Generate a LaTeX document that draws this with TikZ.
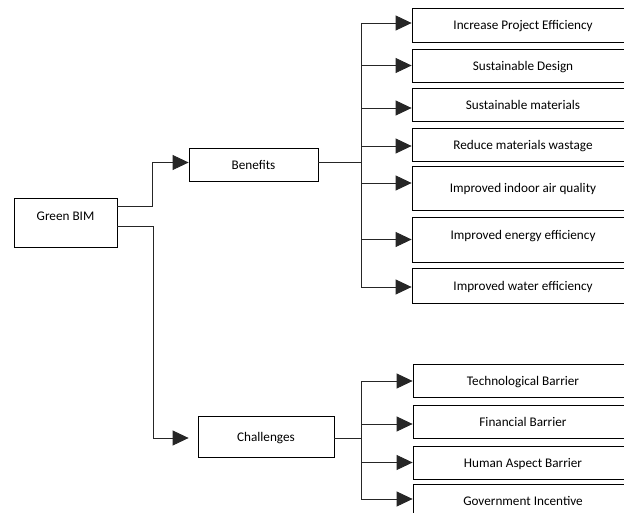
\documentclass[tikz,border=0pt]{standalone}
\usepackage{fontspec}
\setmainfont{Carlito}
\usetikzlibrary{arrows.meta,calc}
\tikzset{
  txt/.style={font=\fontsize{13.2}{15}\selectfont},
  box/.style={draw=black, line width=0.8pt, rectangle, inner sep=0pt, txt, text height=10pt, text depth=0pt},
  conn/.style={draw=black!85, line width=0.8pt},
  arr/.style={conn, -{Triangle[length=16pt,width=15pt]}},
}
\begin{document}
\begin{tikzpicture}[x=1pt,y=-1pt]
\useasboundingbox (0,0) rectangle (624,513);
\clip (0,0) rectangle (624,513);
% main boxes
\node[box, minimum width=103, minimum height=49, label={[txt, yshift=6.5pt]center:Green BIM}] (green) at (65.5,222.5) {};
\node[box, minimum width=129, minimum height=33] (ben) at (253.5,164.5) {Benefits};
\node[box, minimum width=136, minimum height=41] (chal) at (266,436.5) {Challenges};
% benefit boxes
\node[box, minimum width=222, minimum height=34] (b1) at (523,25) {Increase Project Efficiency};
\node[box, minimum width=222, minimum height=33] (b2) at (523,65.5) {Sustainable Design};
\node[box, minimum width=222, minimum height=33] (b3) at (523,104.5) {Sustainable materials};
\node[box, minimum width=222, minimum height=33] (b4) at (523,144.5) {Reduce materials wastage};
\node[box, minimum width=222, minimum height=44] (b5) at (523,188) {Improved indoor air quality};
\node[box, minimum width=222, minimum height=45, text depth=9pt] (b6) at (523,239.5) {Improved energy efficiency};
\node[box, minimum width=222, minimum height=35] (b7) at (523,285.5) {Improved water efficiency};
% challenge boxes
\node[box, minimum width=220, minimum height=33] (c1) at (523,380.5) {Technological Barrier};
\node[box, minimum width=220, minimum height=33] (c2) at (523,421.5) {Financial Barrier};
\node[box, minimum width=220, minimum height=33] (c3) at (523,462.5) {Human Aspect Barrier};
\node[box, minimum width=220, minimum height=33] (c4) at (523,500.5) {Government Incentive};
% Green BIM to Benefits / Challenges
\coordinate (j1) at (152,206);
\coordinate (j2) at (153,226);
\draw[arr] (green.east |- j1) -- (j1) |- ([yshift=2pt]ben.west);
\draw[arr, shorten >=9pt] (green.east |- j2) -- (j2) |- ([yshift=-1.5pt]chal.west);
% benefits bus
\coordinate (bt) at (361,23);
\coordinate (bb) at (361,287);
\draw[conn] (bt) -- (bb);
\draw[conn] ([yshift=2pt]ben.east) -- ([yshift=2pt]ben.east -| bt);
\draw[arr] (bt) -- ([yshift=2pt]b1.west);
\draw[arr] (bt |- b2.west) -- (b2.west);
\draw[arr] ([yshift=-3.5pt]bt |- b3.west) -- ([yshift=-3.5pt]b3.west);
\draw[arr] ([yshift=-1.5pt]bt |- b4.west) -- ([yshift=-1.5pt]b4.west);
\draw[arr] ([yshift=5pt]bt |- b5.west) -- ([yshift=5pt]b5.west);
\draw[arr] (bt |- b6.west) -- (b6.west);
\draw[arr] (bb) -- (bb -| b7.west);
% challenges bus
\coordinate (ct) at (361,381);
\coordinate (cb) at (361,499);
\draw[conn] (ct) -- (cb);
\draw[conn] ([yshift=-1.5pt]chal.east) -- ([yshift=-1.5pt]chal.east -| ct);
\draw[arr] (ct) -- (ct -| c1.west);
\draw[arr] ([yshift=-2.5pt]ct |- c2.west) -- ([yshift=-2.5pt]c2.west);
\draw[arr] (ct |- c3.west) -- (c3.west);
\draw[arr] (cb) -- (cb -| c4.west);
\end{tikzpicture}
\end{document}
